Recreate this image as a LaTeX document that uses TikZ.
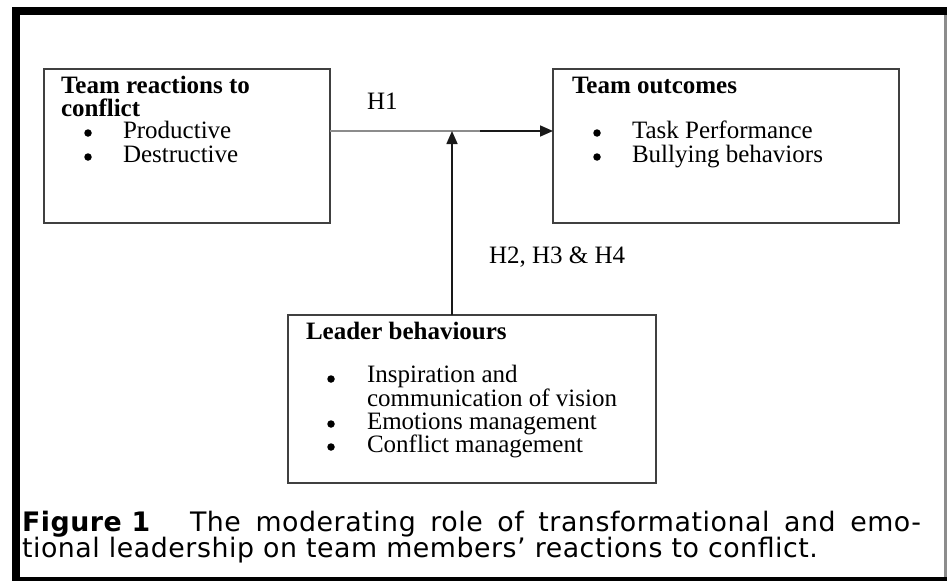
\documentclass[tikz,border=0pt]{standalone}
\usepackage{fontspec}
\setmainfont{Liberation Serif}
\newfontfamily\capfont[LetterSpace=2]{DejaVu Sans}
\usetikzlibrary{arrows.meta}
\begin{document}
\begin{tikzpicture}[x=1pt,y=-1pt,
  every node/.style={inner sep=0pt, outer sep=0pt},
  box/.style={draw=black!75, line width=1.4pt, anchor=north west},
  txt/.style={anchor=base west, align=left, font=\fontsize{25}{22.5}\selectfont},
  head/.style={anchor=base west, align=left, font=\fontsize{25}{23}\selectfont\bfseries},
  bul/.style={circle, fill=black, minimum size=7.5pt},
  link/.style={line width=1.6pt, black!90},
  tip/.style={-{Triangle[length=13pt,width=11pt]}},
  captext/.style={anchor=base west, font=\capfont\fontsize{26.8}{28}\selectfont}
]
\useasboundingbox (0,0) rectangle (947,581);
% page frame
\fill[black] (12,7) rectangle (947,581);
\fill[white] (20,15) rectangle (944,577);
\fill[black!45] (944,15) rectangle (946.5,577);

% boxes
\node[box, minimum width=286pt, minimum height=154pt] (react) at (44,69) {};
\node[box, minimum width=346pt, minimum height=154pt] (outc) at (553,69) {};
\node[box, minimum width=368pt, minimum height=168pt] (lead) at (288,315) {};

% team reactions (multi-line nodes sit on their last baseline)
\node[head] (reactA) at (61,116) {Team reactions to\\conflict};
\node[bul] (rb1) at (88,133) {};
\node[txt] (r1) at (123,138) {Productive};
\node[bul] (rb2) at (88,157) {};
\node[txt] (r2) at (123,162) {Destructive};

% team outcomes
\node[head] (outA) at (572,93) {Team outcomes};
\node[bul] (ob1) at (597,133) {};
\node[txt] (o1) at (632,138) {Task Performance};
\node[bul] (ob2) at (597,157) {};
\node[txt] (o2) at (632,162) {Bullying behaviors};

% leader behaviours
\node[head] (leadA) at (306,339) {Leader behaviours};
\node[bul] (lb1) at (331,379) {};
\node[txt] (l1) at (367,406) {Inspiration and\\communication of vision};
\node[bul] (lb2) at (331,424) {};
\node[txt] (l2) at (367,429) {Emotions management};
\node[bul] (lb3) at (331,447) {};
\node[txt] (l3) at (367,452) {Conflict management};

% hypotheses
\node[txt] (h1) at (367,109) {H1};
\node[txt] (h2) at (489,263) {H2, H3 \& H4};

% connectors
\coordinate (join) at (452,131);
\coordinate (split) at (480,131);
\draw[link, black!45] (react.east |- join) -- (split);
\draw[link, tip] (split) -- (outc.west |- join);
\draw[link, tip] (lead.north -| join) -- (join);

% caption
\node[captext] (figlab) at (22,531) {\bfseries Figure 1};
\node[captext] (capA) at (190,531) {\makebox[731pt][s]{The moderating role of transformational and emo-}};
\node[captext] (capB) at (22,557) {tional leadership on team members’ reactions to conflict.};
\end{tikzpicture}
\end{document}
